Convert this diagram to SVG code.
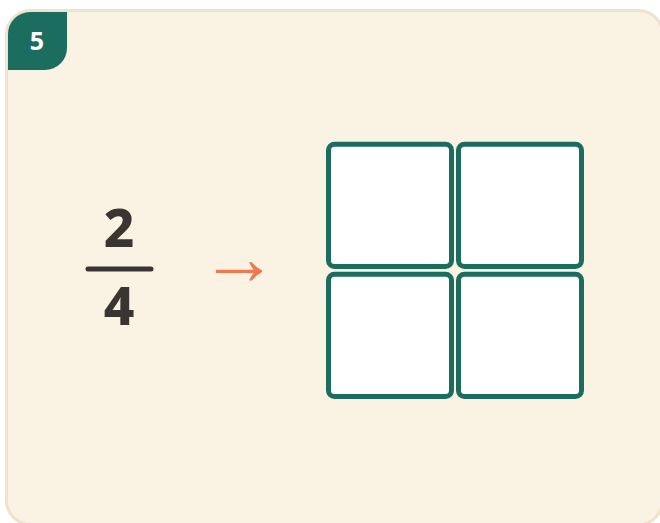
<svg xmlns="http://www.w3.org/2000/svg" width="660" height="523" viewBox="0 0 660 523">
<style>
.cell{fill:#ffffff;stroke:#1b6e5f;stroke-width:5}
.num{font-family:"Noto Sans","DejaVu Sans",sans-serif;font-weight:800;fill:#3a3531;text-anchor:middle}
</style>
<rect width="660" height="523" fill="#ffffff"/>
<g id="card">
<rect x="6.5" y="10.5" width="656" height="514" rx="24" fill="#faf2e3" stroke="#efe3c9" stroke-width="3"/>
</g>
<g id="badge">
<path d="M8 34 A22 22 0 0 1 30 12 L67 12 L67 48 A22 22 0 0 1 45 70 L8 70 Z" fill="#1b6e5f"/>
<text x="37" y="50" font-family="Noto Sans,DejaVu Sans,sans-serif" font-weight="700" font-size="25" fill="#ffffff" text-anchor="middle">5</text>
</g>
<g id="fraction">
<text class="num" x="119" y="247" font-size="53">2</text>
<line x1="88" y1="269" x2="151" y2="269" stroke="#3a3531" stroke-width="5" stroke-linecap="round"/>
<text class="num" x="119" y="325" font-size="53">4</text>
</g>
<g id="connectors">
<text x="239" y="284" font-family="Liberation Sans,Arial,sans-serif" font-size="78" fill="#f07a50" text-anchor="middle">→</text>
</g>
<g id="grid">
<rect class="cell" x="328.5" y="144.2" width="123" height="122.3" rx="6"/>
<rect class="cell" x="458.5" y="144.2" width="123" height="122.3" rx="6"/>
<rect class="cell" x="328.5" y="274.2" width="123" height="122.3" rx="6"/>
<rect class="cell" x="458.5" y="274.2" width="123" height="122.3" rx="6"/>
</g>
</svg>
